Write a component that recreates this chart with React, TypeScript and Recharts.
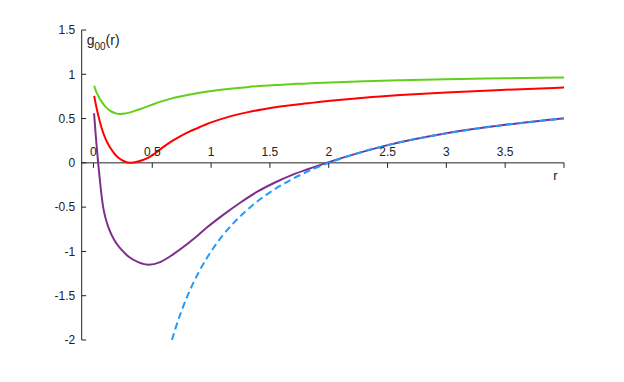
import React from 'react';
import { LineChart, Line, XAxis, YAxis, ReferenceLine } from 'recharts';

const xTicks = [0, 0.5, 1, 1.5, 2, 2.5, 3, 3.5, 4];
const xTickLabels = ['0', '0.5', '1', '1.5', '2', '2.5', '3', '3.5', ''];
const yTicks = [-2, -1.5, -1, -0.5, 0, 0.5, 1, 1.5];
const yTickLabels = ['-2', '-1.5', '-1', '-0.5', '0', '0.5', '1', '1.5'];
const xDomain = [-0.1, 4];
const yDomain = [-2, 1.5];
const yTitle = 'g';
const yTitleSub = '00';
const yTitleTail = '(r)';
const xTitle = 'r';

const greenR = [0.006, 0.02, 0.043, 0.07, 0.1, 0.13, 0.156, 0.19, 0.228, 0.27, 0.312, 0.38, 0.454, 0.52, 0.595, 0.66, 0.737, 0.81, 0.879, 1.02, 1.162, 1.304, 1.446, 1.6, 1.73, 2.013, 2.3, 2.61, 3.0, 3.5, 4.0];
const greenG = [0.87, 0.815, 0.75, 0.688, 0.637, 0.6, 0.577, 0.559, 0.552, 0.557, 0.57, 0.6, 0.635, 0.668, 0.7, 0.725, 0.75, 0.77, 0.787, 0.815, 0.837, 0.855, 0.87, 0.882, 0.892, 0.908, 0.922, 0.933, 0.945, 0.955, 0.963];

const redR = [0.006, 0.02, 0.04, 0.068, 0.1, 0.13, 0.153, 0.18, 0.21, 0.26, 0.315, 0.38, 0.454, 0.52, 0.595, 0.66, 0.737, 0.81, 0.879, 0.95, 1.02, 1.162, 1.304, 1.446, 1.588, 1.73, 1.871, 2.013, 2.3, 2.61, 3.0, 3.5, 4.0];
const redG = [0.756, 0.66, 0.54, 0.4, 0.28, 0.2, 0.15, 0.1, 0.06, 0.018, 0.0, 0.015, 0.05, 0.105, 0.18, 0.24, 0.3, 0.35, 0.39, 0.43, 0.465, 0.525, 0.57, 0.605, 0.635, 0.66, 0.68, 0.7, 0.735, 0.765, 0.795, 0.825, 0.85];

const purpleR = [0.005, 0.02, 0.04, 0.055, 0.068, 0.08, 0.1, 0.125, 0.153, 0.19, 0.238, 0.3, 0.38, 0.47, 0.567, 0.68, 0.85, 0.964, 1.1, 1.247, 1.4, 1.53, 1.7, 1.815, 1.98, 2.2, 2.5, 3.0, 3.5, 4.0];
const purpleG = [0.56, 0.3, 0.0, -0.2, -0.36, -0.48, -0.61, -0.72, -0.81, -0.9, -0.98, -1.06, -1.12, -1.15, -1.12, -1.03, -0.86, -0.73, -0.59, -0.45, -0.32, -0.23, -0.13, -0.075, 0.0, 0.09, 0.2, 0.334, 0.43, 0.505];

const blueR = [0.667, 0.7, 0.75, 0.8, 0.85, 0.9, 1.0, 1.1, 1.2, 1.35, 1.5, 1.7, 2.0, 2.3, 2.6, 3.0, 3.5, 4.0];
const blueG = [-2.0, -1.857, -1.667, -1.5, -1.353, -1.222, -1.0, -0.818, -0.667, -0.481, -0.333, -0.176, 0.0, 0.13, 0.231, 0.333, 0.429, 0.5];

const toData = (rs: number[], gs: number[]) => rs.map((r, i) => ({ r, g: gs[i] }));
const greenData = toData(greenR, greenG);
const redData = toData(redR, redG);
const purpleData = toData(purpleR, purpleG);
const blueData = toData(blueR, blueG);

const W = 608;
const H = 366;
const PLOT_LEFT = 73.7;
const PLOT_RIGHT = 556;
const PLOT_TOP = 22;
const PLOT_BOTTOM = 332;
const Y_AXIS_W = 60;
const X_AXIS_H = 1;
const PLOT_H = PLOT_BOTTOM - PLOT_TOP;
const ZERO_OFFSET = (PLOT_H * (0 - yDomain[0])) / (yDomain[1] - yDomain[0]);

const AXIS_COLOR = '#222222';
const FONT = '"Liberation Sans", Arial, Helvetica, sans-serif';

const XTick = (props: any) => {
  const { x, y, payload } = props;
  const y0 = y - ZERO_OFFSET;
  const idx = xTicks.indexOf(payload.value);
  const label = idx >= 0 ? xTickLabels[idx] : '';
  const isLast = idx === xTicks.length - 1;
  return (
    <g>
      <line x1={x} y1={y0} x2={x} y2={y0 + 5} stroke={AXIS_COLOR} strokeWidth={1} />
      {label !== '' && (
        <text x={x} y={y0 - 6.5} textAnchor="middle" fontSize={12} fontFamily={FONT} fill={AXIS_COLOR}>
          {label}
        </text>
      )}
      {isLast && (
        <text x={x - 8.5} y={y0 + 17} textAnchor="middle" fontSize={13} fontFamily={FONT} fill={AXIS_COLOR}>
          {xTitle}
        </text>
      )}
    </g>
  );
};

const YTick = (props: any) => {
  const { x, y, payload } = props;
  const idx = yTicks.indexOf(payload.value);
  const label = idx >= 0 ? yTickLabels[idx] : '';
  const isTop = idx === yTicks.length - 1;
  return (
    <g>
      <line x1={x} y1={y} x2={x + 4.5} y2={y} stroke={AXIS_COLOR} strokeWidth={1} />
      <text x={x - 6.5} y={y + 4.3} textAnchor="end" fontSize={12} fontFamily={FONT} fill={AXIS_COLOR}>
        {label}
      </text>
      {isTop && (
        <text x={x + 5} y={y + 14.5} fontSize={14} fontFamily={FONT} fill={AXIS_COLOR}>
          {yTitle}
          <tspan fontSize={10} dy={5.5}>{yTitleSub}</tspan>
          <tspan dy={-5.5}>{yTitleTail}</tspan>
        </text>
      )}
    </g>
  );
};

export default function App() {
  return (
    <LineChart
      width={W}
      height={H}
      margin={{ top: PLOT_TOP, right: W - PLOT_RIGHT, bottom: H - PLOT_BOTTOM - X_AXIS_H, left: PLOT_LEFT - Y_AXIS_W }}
    >
      <XAxis
        dataKey="r"
        type="number"
        domain={xDomain}
        ticks={xTicks}
        allowDataOverflow
        height={X_AXIS_H}
        axisLine={false}
        tickLine={false}
        tickSize={0}
        tickMargin={0}
        tick={(p: any) => <XTick {...p} />}
        interval={0}
      />
      <YAxis
        type="number"
        domain={yDomain}
        ticks={yTicks}
        allowDataOverflow
        width={Y_AXIS_W}
        axisLine={{ stroke: AXIS_COLOR, strokeWidth: 1 }}
        tickLine={false}
        tickSize={0}
        tickMargin={0}
        tick={(p: any) => <YTick {...p} />}
        interval={0}
      />
      <ReferenceLine y={0} stroke={AXIS_COLOR} strokeWidth={1} />
      <Line data={greenData} dataKey="g" type="monotone" stroke="#62d01a" strokeWidth={2} dot={false} activeDot={false} isAnimationActive={false} />
      <Line data={redData} dataKey="g" type="monotone" stroke="#ff0000" strokeWidth={2} dot={false} activeDot={false} isAnimationActive={false} />
      <Line data={purpleData} dataKey="g" type="monotone" stroke="#7e2f8e" strokeWidth={2} dot={false} activeDot={false} isAnimationActive={false} />
      <Line data={blueData} dataKey="g" type="monotone" stroke="#1e9bff" strokeWidth={2} strokeDasharray="7 4" dot={false} activeDot={false} isAnimationActive={false} />
    </LineChart>
  );
}
